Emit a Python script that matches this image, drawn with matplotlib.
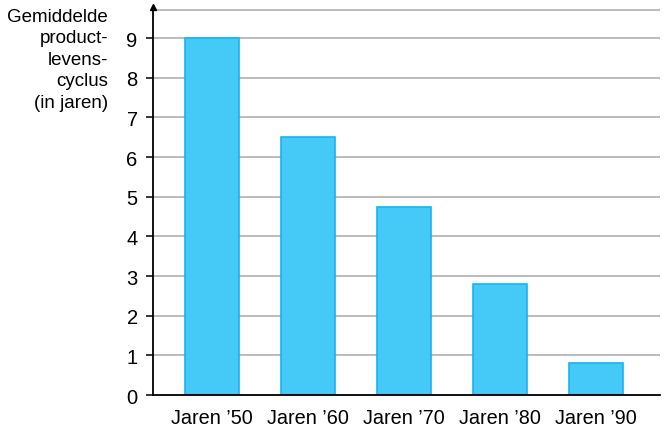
"""Bar chart of the average product life cycle per decade."""

import matplotlib.pyplot as plt
import numpy as np

plt.rcParams["font.family"] = ["Liberation Sans", "DejaVu Sans"]

# --- Data ---------------------------------------------------------------------
DECADES = ["Jaren \u201950", "Jaren \u201960", "Jaren \u201970", "Jaren \u201980", "Jaren \u201990"]
LIFE_CYCLE_YEARS = [9.0, 6.5, 4.75, 2.8, 0.8]
Y_TICKS = [0, 1, 2, 3, 4, 5, 6, 7, 8, 9]
Y_LABEL = "Gemiddelde\nproduct-\nlevens-\ncyclus\n(in jaren)"

BAR_FILL = "#45c9f6"
BAR_EDGE = "#1ab3ef"
GRID_COLOR = "#a8a8a8"


def main() -> None:
    fig = plt.figure(figsize=(6.65, 4.31), dpi=100)
    ax = fig.add_axes([0.230, 0.0812, 0.7625, 0.9])

    x = np.arange(len(DECADES))
    ax.bar(x, LIFE_CYCLE_YEARS, width=0.5625, color=BAR_FILL,
           edgecolor=BAR_EDGE, linewidth=1.2, zorder=3)

    # horizontal guide lines, including the top frame line
    for y in Y_TICKS[1:] + [9.7]:
        ax.axhline(y, color=GRID_COLOR, linewidth=1.1, zorder=1)

    ax.set_xlim(-0.6146, 4.667)
    ax.set_ylim(0, 9.78)
    ax.set_xticks(x)
    ax.set_xticklabels(DECADES, fontsize=14.3)
    ax.set_yticks(Y_TICKS)
    ax.set_yticklabels([str(t) for t in Y_TICKS], fontsize=14.5)

    ax.tick_params(axis="x", length=0, pad=9)
    ax.tick_params(axis="y", length=5, width=1.1, pad=6, direction="out")

    for side in ("top", "right"):
        ax.spines[side].set_visible(False)
    for side in ("left", "bottom"):
        ax.spines[side].set_linewidth(1.3)
        ax.spines[side].set_zorder(4)

    # arrowhead on the y axis
    ax.plot(0, 1, marker="^", color="black", markersize=5,
            transform=ax.transAxes, clip_on=False, zorder=5)

    fig.text(108 / 665, 1 - 9 / 431, Y_LABEL, ha="right", va="top",
             fontsize=13.5, linespacing=1.34)

    fig.savefig("out.png", dpi=100)


if __name__ == "__main__":
    main()
